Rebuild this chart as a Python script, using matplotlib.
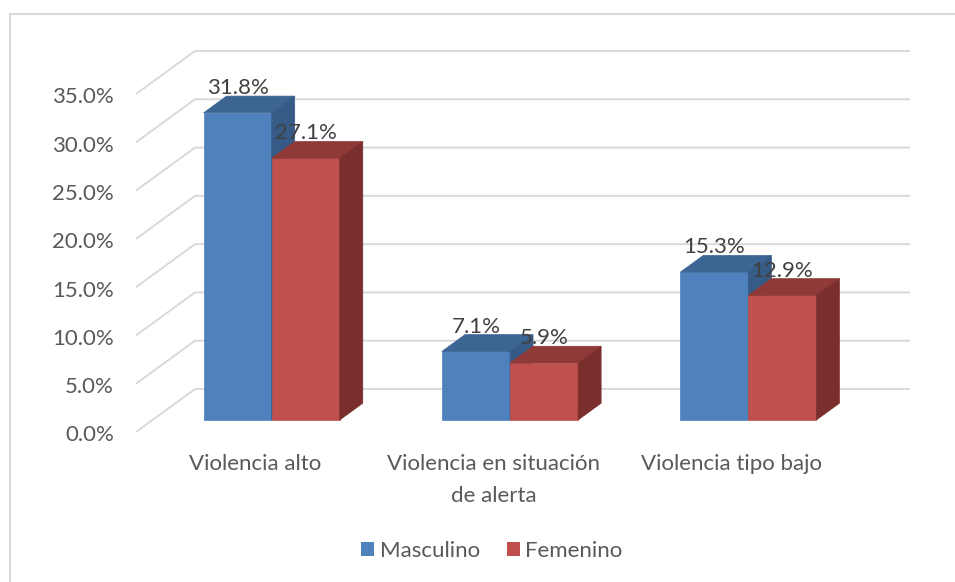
import numpy as np
import matplotlib.pyplot as plt
from matplotlib.patches import Polygon, Rectangle, Patch

plt.rcParams['font.family'] = ['Lato', 'DejaVu Sans']

# datos
categorias = ['Violencia alto', 'Violencia en situación\nde alerta', 'Violencia tipo bajo']
masculino = [31.8, 7.1, 15.3]
femenino = [27.1, 5.9, 12.9]
ticks = [0, 5, 10, 15, 20, 25, 30, 35]
series = ['Masculino', 'Femenino']

# colores: frente, arriba, lado
col_azul = ('#4F81BD', '#3D6594', '#365B87')
col_rojo = ('#C0504D', '#8F3A38', '#7A2F2D')
gris_txt = '#595959'
gris_lin = '#D9D9D9'
fs = 16

# geometria (pixeles)
W, H = 955, 582
x0, ux = 136, 238.33      # plano frontal: inicio categoria 0, px por categoria
y0, uy = 432, 9.657       # plano frontal: 0%, px por 1%
ddx, ddy = 59 / ux, 43 / uy   # desplazamiento de profundidad completo
d_front, d_back = 0.28, 0.67
ancho = 0.2857
hueco = (1 - 2 * ancho) / 2

fig = plt.figure(figsize=(W / 100, H / 100), dpi=100)
ax = fig.add_axes([0, 0, 1, 1])
ax.set_xlim(-x0 / ux, (W - x0) / ux)
ax.set_ylim(-(H - y0) / uy, y0 / uy)
ax.axis('off')


def proj(x, y, d):
    return (x + d * ddx, y + d * ddy)


# cuadricula (pared izquierda + fondo)
n = len(categorias)
for t in ticks:
    ax.plot([0, ddx, n + ddx], [t, t + ddy, t + ddy], color=gris_lin, lw=1.4,
            zorder=1, solid_capstyle='butt')
    ax.text(-0.092, t - 0.35, f'{t:.1f}%', ha='right', va='center',
            fontsize=fs, color=gris_txt)

# barras 3D
z = 2
for i in range(n):
    for j, (vals, cols) in enumerate([(masculino, col_azul), (femenino, col_rojo)]):
        v = vals[i]
        xl = i + hueco + j * ancho
        xr = xl + ancho
        frente = [proj(xl, 0, d_front), proj(xr, 0, d_front),
                  proj(xr, v, d_front), proj(xl, v, d_front)]
        arriba = [proj(xl, v, d_front), proj(xr, v, d_front),
                  proj(xr, v, d_back), proj(xl, v, d_back)]
        lado = [proj(xr, 0, d_front), proj(xr, v, d_front),
                proj(xr, v, d_back), proj(xr, 0, d_back)]
        for pts, c in zip([frente, arriba, lado], cols):
            ax.add_patch(Polygon(pts, closed=True, fc=c, ec=c, lw=0.5, zorder=z))
        z += 1

# etiquetas de datos
for i in range(n):
    for j, vals in enumerate([masculino, femenino]):
        v = vals[i]
        xc = i + hueco + j * ancho + ancho / 2 + d_front * ddx
        ax.text(xc, v + d_back * ddy - 0.2, f'{v:.1f}%', ha='center', va='bottom',
                fontsize=fs, color='#404040', zorder=20)

# categorias
for i, cat in enumerate(categorias):
    ax.text(i + 0.5, -(454 - y0) / uy, cat, ha='center', va='top',
            fontsize=fs, color=gris_txt, linespacing=1.75)

# leyenda
handles = [Patch(fc=col_azul[0], ec='none'), Patch(fc=col_rojo[0], ec='none')]
fig.legend(handles, series, loc='center', bbox_to_anchor=(0.515, 1 - 551 / H),
           ncol=2, frameon=False, fontsize=fs, labelcolor=gris_txt,
           handlelength=0.6, handleheight=0.6, handletextpad=0.25,
           columnspacing=1.2)

# borde del grafico
fig.add_artist(Rectangle((10 / W, -0.05), 1.2, 1 - 14 / H + 0.05,
                         transform=fig.transFigure, fill=False, ec=gris_lin, lw=1.5))

fig.savefig('out.png', dpi=100)
